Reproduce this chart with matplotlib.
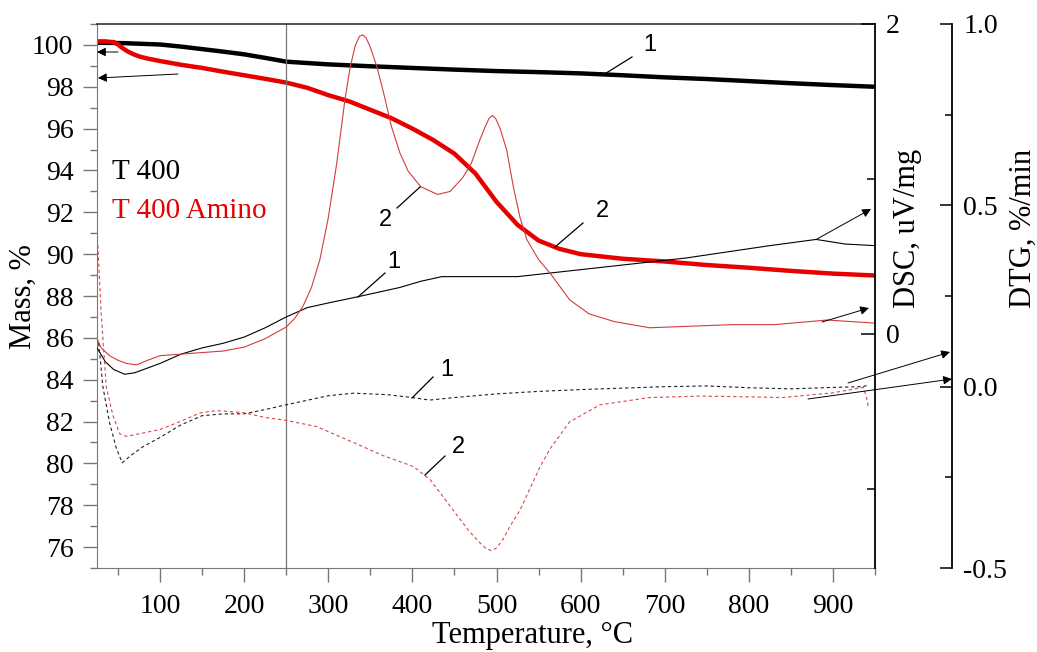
import numpy as np
import matplotlib
matplotlib.use("Agg")
import matplotlib.pyplot as plt
from matplotlib.lines import Line2D
from matplotlib.ticker import MultipleLocator, FormatStrFormatter

plt.rcParams['font.family'] = ['Liberation Serif', 'DejaVu Serif']
plt.rcParams['axes.unicode_minus'] = False

# TG (mass, %) curves
t_tg1 = [25, 40, 60, 80, 100, 125, 150, 175, 200, 225, 250, 300, 350, 400, 450,
         500, 550, 600, 650, 700, 750, 800, 850, 900, 950]
m_tg1 = [100.1, 100.1, 100.08, 100.05, 100.02, 99.92, 99.8, 99.68, 99.55, 99.38,
         99.2, 99.07, 98.98, 98.9, 98.82, 98.75, 98.7, 98.64, 98.55, 98.45, 98.37,
         98.27, 98.17, 98.08, 98.0]

t_tg2 = [25, 35, 45, 50, 55, 61, 68, 76, 85, 100, 125, 150, 175, 200, 225, 250, 275,
         300, 325, 350, 375, 400, 425, 450, 475, 500, 525, 550, 575, 600, 650, 700,
         750, 800, 850, 900, 950]
m_tg2 = [100.17, 100.17, 100.13, 100.02, 99.86, 99.7, 99.56, 99.44, 99.35, 99.23,
         99.05, 98.9, 98.72, 98.55, 98.38, 98.2, 97.95, 97.6, 97.3, 96.9, 96.5, 96.0,
         95.45, 94.8, 93.85, 92.5, 91.4, 90.65, 90.25, 90.0, 89.78, 89.65, 89.48,
         89.35, 89.2, 89.07, 88.98]

# DSC (uV/mg) curves
t_dsc1 = [25, 35, 45, 58, 70, 85, 100, 125, 150, 175, 200, 225, 250, 275, 300, 335,
          360, 385, 410, 435, 475, 525, 575, 625, 675, 725, 775, 825, 880, 915, 950]
v_dsc1 = [-0.09, -0.18, -0.23, -0.26, -0.25, -0.22, -0.19, -0.13, -0.09, -0.06, -0.02,
          0.04, 0.11, 0.17, 0.2, 0.24, 0.27, 0.3, 0.34, 0.37, 0.37, 0.37, 0.4, 0.43,
          0.46, 0.49, 0.53, 0.57, 0.61, 0.58, 0.57]

t_dsc2 = [25, 30, 40, 50, 60, 72, 85, 100, 125, 150, 175, 200, 225, 250, 260, 270, 280,
          290, 300, 310, 320, 326, 332, 337, 341, 345, 350, 358, 366, 375, 385, 395, 410,
          430, 445, 460, 470, 480, 486, 491, 495, 499, 504, 512, 520, 528, 536, 550, 564,
          587, 610, 640, 682, 730, 780, 830, 893, 950]
v_dsc2 = [-0.03, -0.09, -0.14, -0.17, -0.19, -0.2, -0.17, -0.14, -0.13, -0.12, -0.11,
          -0.085, -0.03, 0.045, 0.1, 0.18, 0.3, 0.48, 0.75, 1.1, 1.52, 1.72, 1.86, 1.92,
          1.93, 1.91, 1.85, 1.72, 1.55, 1.34, 1.17, 1.05, 0.95, 0.9, 0.92, 1.01, 1.1,
          1.25, 1.33, 1.39, 1.41, 1.39, 1.33, 1.19, 0.95, 0.75, 0.61, 0.48, 0.39, 0.22,
          0.13, 0.08, 0.04, 0.05, 0.06, 0.06, 0.09, 0.07]

# DTG (%/min) curves
t_dtg1 = [27, 32, 40, 48, 55, 65, 80, 100, 125, 150, 175, 200, 225, 250, 300, 330, 370,
          400, 420, 450, 500, 550, 600, 650, 700, 750, 800, 850, 900, 935, 940]
v_dtg1 = [0.12, 0.0, -0.1, -0.17, -0.21, -0.19, -0.165, -0.14, -0.105, -0.08, -0.075,
          -0.075, -0.063, -0.05, -0.025, -0.018, -0.022, -0.03, -0.037, -0.03, -0.02,
          -0.013, -0.008, -0.004, 0.0, 0.002, -0.003, -0.006, -0.002, 0.0, 0.003]

t_dtg2 = [26, 30, 36, 44, 52, 60, 75, 100, 125, 148, 168, 200, 225, 250, 286, 326, 365,
          401, 421, 445, 468, 480, 488, 494, 500, 508, 516, 528, 540, 552, 564, 587, 623,
          682, 742, 800, 840, 900, 936, 940, 942]
v_dtg2 = [0.39, 0.2, 0.0, -0.08, -0.13, -0.137, -0.13, -0.118, -0.095, -0.072, -0.066,
          -0.072, -0.085, -0.093, -0.11, -0.15, -0.19, -0.22, -0.256, -0.33, -0.4, -0.43,
          -0.447, -0.452, -0.445, -0.42, -0.385, -0.34, -0.28, -0.22, -0.17, -0.097,
          -0.05, -0.03, -0.026, -0.028, -0.03, -0.017, -0.002, -0.03, -0.055]

W, H = 1037, 652
fig = plt.figure(figsize=(W / 100, H / 100), dpi=100)
ax = fig.add_axes([97 / W, 1 - 568 / H, (875 - 97) / W, (568 - 24) / H])

red = '#e60000'
gray = '#777777'

ax.plot(t_tg1, m_tg1, color='k', lw=3.2, solid_capstyle='butt')
ax.plot(t_tg2, m_tg2, color=red, lw=3.2, solid_capstyle='butt')
ax.axvline(250, color=gray, lw=0.9)
ax.set_xlim(25, 950)
ax.set_ylim(75, 101)
ax.xaxis.set_major_locator(MultipleLocator(100))
ax.xaxis.set_minor_locator(MultipleLocator(50))
ax.yaxis.set_major_locator(MultipleLocator(2))
ax.yaxis.set_minor_locator(MultipleLocator(1))
ax.tick_params(which='both', direction='out', color=gray, labelsize=20, pad=7)
ax.tick_params(which='major', length=10, width=1)
ax.tick_params(which='minor', length=5, width=1)
ax.tick_params(axis='x', pad=9)
ax.set_xticks([100, 200, 300, 400, 500, 600, 700, 800, 900])
for s in ['left', 'bottom']:
    ax.spines[s].set_color(gray)
ax.spines['top'].set_color('#333333')
ax.spines['top'].set_linewidth(1.2)
ax.spines['right'].set_visible(False)

# DSC axis
ax2 = ax.twinx()
ax2.plot(t_dsc1, v_dsc1, color='k', lw=0.8)
ax2.plot(t_dsc2, v_dsc2, color='#d23c3c', lw=0.8)
ax2.set_ylim(-1.51, 2)
ax2.yaxis.set_major_locator(MultipleLocator(2))
ax2.yaxis.set_minor_locator(MultipleLocator(1))
ax2.tick_params(which='both', direction='in', labelsize=20, pad=8, color='k')
ax2.tick_params(which='major', length=10, width=1.1)
ax2.tick_params(which='minor', length=6, width=1.1)
for s in ['left', 'top', 'bottom']:
    ax2.spines[s].set_visible(False)
ax2.spines['right'].set_linewidth(1.3)

# DTG axis
ax3 = ax.twinx()
ax3.plot(t_dtg1, v_dtg1, color='#222222', lw=0.8, dashes=(3, 2.5))
ax3.plot(t_dtg2, v_dtg2, color='#d84848', lw=0.8, dashes=(3, 2.5))
ax3.set_ylim(-0.5, 1.0)
ax3.spines['right'].set_position(('axes', 1.099))
ax3.yaxis.set_major_locator(MultipleLocator(0.5))
ax3.yaxis.set_minor_locator(MultipleLocator(0.25))
ax3.yaxis.set_major_formatter(FormatStrFormatter('%.1f'))
ax3.tick_params(which='both', direction='in', labelsize=20, pad=8, color='k')
ax3.tick_params(which='major', length=9, width=1.1)
ax3.tick_params(which='minor', length=5, width=1.1)
for s in ['left', 'top', 'bottom']:
    ax3.spines[s].set_visible(False)
ax3.spines['right'].set_linewidth(1.3)

# axis titles
fig.text(23 / W, 1 - 297 / H, 'Mass, %', rotation=90, ha='center', va='center', fontsize=22)
fig.text(533 / W, 1 - 636 / H, 'Temperature, °C', ha='center', va='center', fontsize=22)
fig.text(908 / W, 1 - 228 / H, 'DSC, uV/mg', rotation=90, ha='center', va='center', fontsize=22)
fig.text(1023 / W, 1 - 228 / H, 'DTG, %/min', rotation=90, ha='center', va='center', fontsize=22)

# sample names
fig.text(112 / W, 1 - 172 / H, 'T 400', color='k', ha='left', va='center', fontsize=21)
fig.text(112 / W, 1 - 211 / H, 'T 400 Amino', color=red, ha='left', va='center', fontsize=21)

# curve numbers with leader lines (pixel positions from top-left)
numbers = [('1', 650, 45, 603, 75, 632, 57),
           ('2', 385, 220, 397, 208, 420, 187),
           ('2', 602, 211, 555, 247, 583, 223),
           ('1', 394, 262, 358, 297, 385, 273),
           ('1', 447, 370, 412, 398, 433, 377),
           ('2', 458, 447, 425, 475, 445, 456)]
for txt, tx, ty, x1, y1, x2, y2 in numbers:
    fig.text(tx / W, 1 - ty / H, txt, ha='center', va='center', fontsize=17,
             family='Liberation Sans')
    fig.add_artist(Line2D([x1 / W, x2 / W], [1 - y1 / H, 1 - y2 / H],
                          transform=fig.transFigure, color='k', lw=0.9))

# arrows pointing to the axis each curve belongs to
arrows = [(118, 52, 97, 52), (178, 74, 98, 78),
          (817, 239, 871, 209), (822, 322, 869, 308),
          (848, 383, 950, 352), (808, 399, 952, 379)]
for x1, y1, x2, y2 in arrows:
    fig.add_artist(matplotlib.patches.FancyArrowPatch(
        (x1 / W, 1 - y1 / H), (x2 / W, 1 - y2 / H), transform=fig.transFigure,
        arrowstyle='-|>', mutation_scale=13, color='k', lw=0.7, shrinkA=0, shrinkB=0))

fig.savefig('out.png', dpi=100)
